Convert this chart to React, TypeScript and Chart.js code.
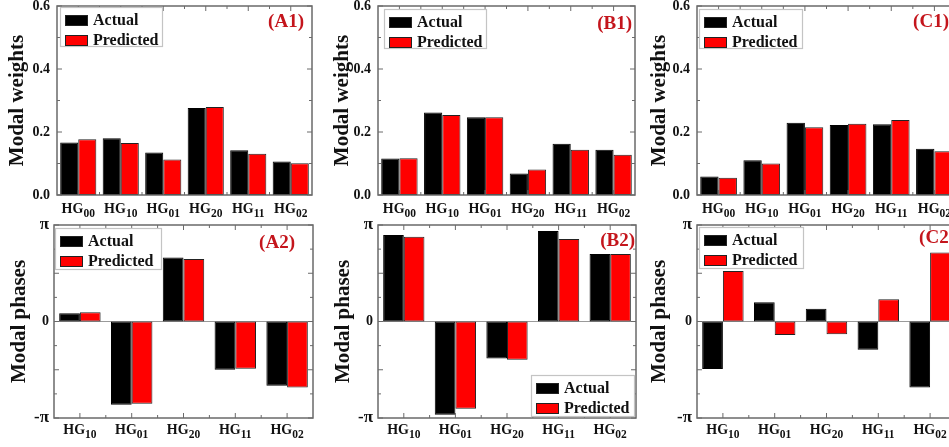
import React, { useEffect, useRef } from 'react';
import { Chart, registerables } from 'chart.js';

Chart.register(...registerables);

// ---------- data ----------
const weightModes = ['HG00', 'HG10', 'HG01', 'HG20', 'HG11', 'HG02'];
const phaseModes = ['HG10', 'HG01', 'HG20', 'HG11', 'HG02'];
const seriesNames = ['Actual', 'Predicted'];

const a1Actual = [0.167, 0.18, 0.135, 0.276, 0.142, 0.106];
const a1Predicted = [0.177, 0.165, 0.113, 0.279, 0.131, 0.101];
const b1Actual = [0.116, 0.262, 0.247, 0.068, 0.163, 0.144];
const b1Predicted = [0.117, 0.254, 0.247, 0.081, 0.144, 0.128];
const c1Actual = [0.059, 0.11, 0.229, 0.222, 0.225, 0.147];
const c1Predicted = [0.055, 0.1, 0.215, 0.226, 0.238, 0.139];

// phases in units of pi
const a2Actual = [0.086, -0.862, 0.662, -0.5, -0.666];
const a2Predicted = [0.097, -0.852, 0.648, -0.49, -0.683];
const b2Actual = [0.897, -0.966, -0.383, 0.938, 0.7];
const b2Predicted = [0.879, -0.903, -0.397, 0.855, 0.7];
const c2Actual = [-0.493, 0.2, 0.131, -0.293, -0.683];
const c2Predicted = [0.524, -0.141, -0.131, 0.231, 0.714];

const weightTickValues = [0, 0.2, 0.4, 0.6];
const weightTickLabels = ['0.0', '0.2', '0.4', '0.6'];
const phaseTickValues = [-1, 0, 1];
const phaseTickLabels = ['-\u03C0', '0', '\u03C0'];

const panelNames = ['(A1)', '(B1)', '(C1)', '(A2)', '(B2)', '(C2)'];

// ---------- styling / layout ----------
const SERIF = '"Liberation Serif", "Times New Roman", serif';
const CW = 970;
const CH = 447;
const XH = 10;
const FRAME = '#6a6a6a';
const LABEL_RED = '#c4151c';
const SERIES_COLORS = ['#000000', '#ff0000'];

type Panel = {
  kind: 'w' | 'p';
  name: string;
  cats: string[];
  actual: number[];
  predicted: number[];
  plot: { l: number; t: number; r: number; b: number };
  titleCenter: number;
  legend: { x: number; y: number; w: number; h: number };
  tag: { r: number; y: number };
};

const panels: Panel[] = [
  { kind: 'w', name: panelNames[0], cats: weightModes, actual: a1Actual, predicted: a1Predicted,
    plot: { l: 57, t: 6, r: 312, b: 195 }, titleCenter: 18,
    legend: { x: 60, y: 7, w: 103, h: 40 }, tag: { r: 304, y: 22 } },
  { kind: 'w', name: panelNames[1], cats: weightModes, actual: b1Actual, predicted: b1Predicted,
    plot: { l: 378, t: 6, r: 635, b: 195 }, titleCenter: 343,
    legend: { x: 384, y: 9, w: 103, h: 40 }, tag: { r: 632, y: 24 } },
  { kind: 'w', name: panelNames[2], cats: weightModes, actual: c1Actual, predicted: c1Predicted,
    plot: { l: 697, t: 6, r: 956, b: 195 }, titleCenter: 659.5,
    legend: { x: 699, y: 9, w: 104, h: 40 }, tag: { r: 949, y: 22 } },
  { kind: 'p', name: panelNames[3], cats: phaseModes, actual: a2Actual, predicted: a2Predicted,
    plot: { l: 54, t: 225, r: 313, b: 418 }, titleCenter: 19.5,
    legend: { x: 55, y: 228, w: 107, h: 42 }, tag: { r: 295, y: 243 } },
  { kind: 'p', name: panelNames[4], cats: phaseModes, actual: b2Actual, predicted: b2Predicted,
    plot: { l: 378, t: 225, r: 636, b: 418 }, titleCenter: 343.5,
    legend: { x: 531, y: 375, w: 104, h: 42 }, tag: { r: 635, y: 241.5 } },
  { kind: 'p', name: panelNames[5], cats: phaseModes, actual: c2Actual, predicted: c2Predicted,
    plot: { l: 697, t: 225, r: 956, b: 418 }, titleCenter: 659.5,
    legend: { x: 699, y: 227, w: 105, h: 42 }, tag: { r: 955, y: 238.5 } },
];

function makeDecorPlugin(p: Panel) {
  return {
    id: 'decor',
    beforeDatasetsDraw(chart: any) {
      if (p.kind !== 'p') return;
      const { ctx, chartArea } = chart;
      const y0 = chart.scales.y.getPixelForValue(0);
      ctx.save();
      ctx.strokeStyle = '#9a9a9a';
      ctx.lineWidth = 1.2;
      ctx.beginPath();
      ctx.moveTo(chartArea.left, y0);
      ctx.lineTo(chartArea.right, y0);
      ctx.stroke();
      ctx.restore();
    },
    afterDraw(chart: any) {
      const { ctx, chartArea } = chart;
      const xs = chart.scales.x;
      const ys = chart.scales.y;
      const { left, right, top, bottom } = chartArea;
      ctx.save();
      // frame
      ctx.strokeStyle = FRAME;
      ctx.lineWidth = 1.5;
      ctx.strokeRect(left, top, right - left, bottom - top);
      // y ticks (inward, both sides)
      ctx.lineWidth = 1;
      const minorStep = p.kind === 'w' ? 0.1 : 0.25;
      const majorStep = p.kind === 'w' ? 0.2 : 0.5;
      const n = Math.round((ys.max - ys.min) / minorStep);
      ctx.beginPath();
      for (let k = 0; k <= n; k++) {
        const v = ys.min + k * minorStep;
        const isMajor = Math.abs(v / majorStep - Math.round(v / majorStep)) < 1e-6;
        const len = isMajor ? 5 : 3;
        const y = ys.getPixelForValue(v);
        ctx.moveTo(left, y);
        ctx.lineTo(left + len, y);
        ctx.moveTo(right, y);
        ctx.lineTo(right - len, y);
      }
      // x ticks: major at centers, minor at boundaries
      const cats = chart.data.labels as string[];
      for (let i = 0; i < cats.length; i++) {
        const x = xs.getPixelForValue(i);
        ctx.moveTo(x, bottom);
        ctx.lineTo(x, bottom - 5);
        ctx.moveTo(x, top);
        ctx.lineTo(x, top + 5);
        if (i > 0) {
          const xb = (x + xs.getPixelForValue(i - 1)) / 2;
          ctx.moveTo(xb, bottom);
          ctx.lineTo(xb, bottom - 3);
          ctx.moveTo(xb, top);
          ctx.lineTo(xb, top + 3);
        }
      }
      ctx.stroke();

      // x labels HG + subscript
      const baseY = p.kind === 'w' ? bottom + 17.5 : bottom + 15.5;
      ctx.fillStyle = '#111';
      ctx.textBaseline = 'alphabetic';
      ctx.textAlign = 'left';
      for (let i = 0; i < cats.length; i++) {
        const x = xs.getPixelForValue(i);
        const main = cats[i].slice(0, 2);
        const sub = cats[i].slice(2);
        ctx.font = `bold 14px ${SERIF}`;
        const w1 = ctx.measureText(main).width;
        ctx.font = `bold 11.5px ${SERIF}`;
        const w2 = ctx.measureText(sub).width;
        const sx = x - (w1 + w2) / 2;
        ctx.font = `bold 14px ${SERIF}`;
        ctx.fillText(main, sx, baseY);
        ctx.font = `bold 11.5px ${SERIF}`;
        ctx.fillText(sub, sx + w1, baseY + 4);
      }

      // legend box
      const L = p.legend;
      ctx.fillStyle = '#ffffff';
      ctx.fillRect(L.x, L.y, L.w, L.h);
      ctx.strokeStyle = '#c4c4c4';
      ctx.lineWidth = 1.2;
      ctx.strokeRect(L.x + 0.5, L.y + 0.5, L.w - 1, L.h - 1);
      const rows = [L.y + 13.5, L.y + 33.5];
      chart.data.datasets.forEach((ds: any, i: number) => {
        const cy = rows[i];
        const sx = L.x + 5;
        ctx.fillStyle = ds.backgroundColor;
        ctx.fillRect(sx, cy - 5.5, 23, 11);
        ctx.strokeStyle = '#222';
        ctx.lineWidth = 1;
        ctx.strokeRect(sx + 0.5, cy - 5.5 + 0.5, 22, 10);
        ctx.fillStyle = '#111';
        ctx.font = `bold 16px ${SERIF}`;
        ctx.textBaseline = 'middle';
        ctx.textAlign = 'left';
        ctx.fillText(ds.label, sx + 28, cy + 0.5);
      });

      // panel tag
      ctx.fillStyle = LABEL_RED;
      ctx.font = `bold 19px ${SERIF}`;
      ctx.textAlign = 'right';
      ctx.textBaseline = 'middle';
      ctx.fillText(p.name, p.tag.r, p.tag.y);
      ctx.restore();
    },
  };
}

function PanelChart({ p }: { p: Panel }) {
  const ref = useRef<HTMLCanvasElement | null>(null);
  useEffect(() => {
    if (!ref.current) return;
    const yw = Math.min(p.plot.l, 60);
    const padL = p.plot.l - yw;
    const titleSize = 21;
    const titlePadTop = p.titleCenter - padL - (titleSize * 1.2) / 2;
    const isW = p.kind === 'w';
    const tickVals = isW ? weightTickValues : phaseTickValues;
    const tickLabs = isW ? weightTickLabels : phaseTickLabels;
    const chart = new Chart(ref.current, {
      type: 'bar',
      data: {
        labels: p.cats,
        datasets: [
          {
            label: seriesNames[0],
            data: p.actual,
            backgroundColor: SERIES_COLORS[0],
            borderColor: '#000',
            borderWidth: 1,
            borderSkipped: false,
            categoryPercentage: isW ? 0.85 : 0.8,
            barPercentage: 1,
          },
          {
            label: seriesNames[1],
            data: p.predicted,
            backgroundColor: SERIES_COLORS[1],
            borderColor: '#222',
            borderWidth: 1,
            borderSkipped: false,
            categoryPercentage: isW ? 0.85 : 0.8,
            barPercentage: 1,
          },
        ],
      },
      options: {
        responsive: false,
        animation: false,
        devicePixelRatio: 1,
        layout: {
          padding: { left: padL, top: p.plot.t, right: CW - p.plot.r, bottom: CH - p.plot.b - XH },
        },
        plugins: {
          legend: { display: false },
          tooltip: { enabled: false },
          title: { display: false },
        },
        scales: {
          x: {
            type: 'category',
            grid: { display: false, drawTicks: false },
            border: { display: false },
            ticks: { display: false },
            afterFit: (s: any) => {
              s.height = XH;
              s.paddingLeft = 0;
              s.paddingRight = 0;
            },
          },
          y: {
            type: 'linear',
            min: isW ? 0 : -1,
            max: isW ? 0.6 : 1,
            afterBuildTicks: (s: any) => {
              s.ticks = tickVals.map((v) => ({ value: v }));
            },
            ticks: {
              color: '#111',
              padding: isW ? 7 : 5,
              font: (ctx: any) => {
                const v = ctx.tick ? ctx.tick.value : 0;
                const big = !isW && Math.abs(v) === 1;
                return { family: SERIF, size: big ? 17 : 14, weight: 'bold' };
              },
              callback: (value: any) => {
                const idx = tickVals.findIndex((t) => Math.abs(t - Number(value)) < 1e-9);
                return idx >= 0 ? tickLabs[idx] : '';
              },
            },
            grid: { display: false, drawTicks: false },
            border: { display: false },
            title: {
              display: true,
              text: isW ? 'Modal weights' : 'Modal phases',
              color: '#111',
              font: { family: SERIF, size: titleSize, weight: 'bold' },
              padding: { top: titlePadTop, bottom: 0 },
            },
            afterFit: (s: any) => {
              s.width = yw;
              s.paddingTop = 0;
              s.paddingBottom = 0;
            },
          },
        },
      } as any,
      plugins: [makeDecorPlugin(p)],
    });
    return () => chart.destroy();
  }, [p]);
  return (
    <canvas
      ref={ref}
      width={CW}
      height={CH}
      style={{ position: 'absolute', left: 0, top: 0, width: CW, height: CH, pointerEvents: 'none' }}
    />
  );
}

export default function App() {
  return (
    <div
      style={{
        position: 'fixed',
        left: 0,
        top: 0,
        width: 949,
        height: 447,
        overflow: 'hidden',
        background: '#ffffff',
      }}
    >
      {panels.map((p) => (
        <PanelChart key={p.name} p={p} />
      ))}
    </div>
  );
}
